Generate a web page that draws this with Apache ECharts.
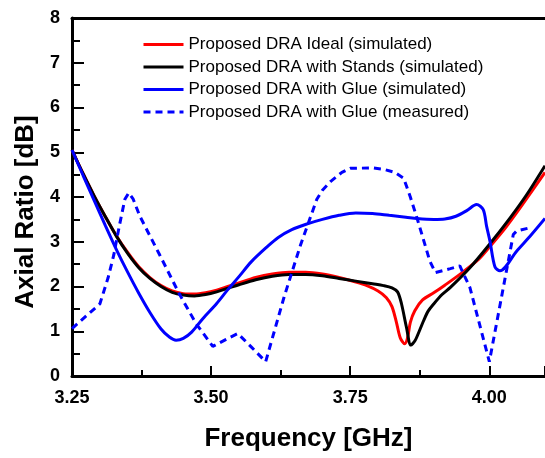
<!DOCTYPE html>
<html>
<head>
<meta charset="utf-8">
<script src="https://cdn.jsdelivr.net/npm/echarts@6/dist/echarts.min.js"></script>
<style>
html,body{margin:0;padding:0;background:#fff;}
#chart{width:545px;height:458px;}
</style>
</head>
<body>
<div id="chart"></div>
<script>
// Series names
var seriesNames = [
  'Proposed DRA Ideal (simulated)',
  'Proposed DRA with Stands (simulated)',
  'Proposed DRA with Glue (simulated)',
  'Proposed DRA with Glue (measured)'
];
// [frequency GHz, axial ratio dB]
var idealSim = [[3.25,5.05],[3.27,4.52],[3.29,4.02],[3.31,3.56],[3.33,3.13],[3.35,2.76],[3.37,2.44],[3.39,2.2],[3.41,2.02],[3.43,1.9],[3.45,1.84],[3.47,1.83],[3.49,1.86],[3.51,1.92],[3.53,2.0],[3.55,2.08],[3.58,2.2],[3.61,2.28],[3.64,2.32],[3.67,2.32],[3.70,2.28],[3.73,2.2],[3.76,2.1],[3.78,2.02],[3.80,1.9],[3.815,1.75],[3.825,1.55],[3.833,1.2],[3.840,0.85],[3.848,0.72],[3.853,0.85],[3.858,1.2],[3.866,1.46],[3.88,1.7],[3.90,1.86],[3.92,2.03],[3.95,2.3],[3.98,2.6],[4.00,2.88],[4.03,3.33],[4.06,3.84],[4.10,4.55]];
var standsSim = [[3.25,5.05],[3.27,4.52],[3.29,4.02],[3.31,3.56],[3.33,3.12],[3.35,2.74],[3.37,2.42],[3.39,2.18],[3.41,2.0],[3.43,1.87],[3.45,1.81],[3.47,1.79],[3.49,1.82],[3.51,1.88],[3.53,1.96],[3.55,2.04],[3.58,2.15],[3.61,2.23],[3.64,2.27],[3.67,2.27],[3.70,2.24],[3.73,2.18],[3.76,2.12],[3.79,2.06],[3.81,2.02],[3.825,1.97],[3.835,1.88],[3.842,1.62],[3.851,1.09],[3.859,0.69],[3.866,0.78],[3.874,1.0],[3.882,1.24],[3.89,1.45],[3.90,1.61],[3.915,1.82],[3.93,1.98],[3.965,2.42],[4.00,2.94],[4.037,3.53],[4.067,4.05],[4.10,4.70]];
var glueSim = [[3.25,5.05],[3.27,4.48],[3.29,3.92],[3.31,3.36],[3.33,2.82],[3.35,2.32],[3.37,1.85],[3.39,1.42],[3.41,1.05],[3.425,0.87],[3.437,0.80],[3.45,0.84],[3.465,0.98],[3.485,1.28],[3.51,1.62],[3.53,1.93],[3.55,2.22],[3.572,2.55],[3.60,2.88],[3.62,3.09],[3.645,3.27],[3.673,3.40],[3.70,3.50],[3.73,3.59],[3.76,3.64],[3.79,3.63],[3.82,3.59],[3.85,3.55],[3.87,3.52],[3.90,3.50],[3.92,3.51],[3.94,3.57],[3.96,3.70],[3.977,3.83],[3.989,3.72],[3.995,3.35],[4.001,3.02],[4.010,2.44],[4.019,2.35],[4.049,2.79],[4.075,3.15],[4.10,3.52]];
var glueMeas = [[3.25,1.06],[3.30,1.61],[3.315,2.2],[3.325,2.7],[3.335,3.35],[3.345,3.95],[3.352,4.09],[3.36,3.95],[3.372,3.57],[3.407,2.72],[3.443,1.83],[3.473,1.17],[3.503,0.66],[3.527,0.82],[3.548,0.95],[3.572,0.65],[3.598,0.32],[3.631,1.76],[3.661,2.94],[3.69,3.95],[3.70,4.15],[3.715,4.35],[3.735,4.55],[3.75,4.64],[3.79,4.65],[3.81,4.62],[3.83,4.55],[3.846,4.42],[3.858,4.0],[3.870,3.53],[3.893,2.57],[3.903,2.31],[3.93,2.4],[3.947,2.46],[3.965,1.98],[4.000,0.32],[4.043,3.16],[4.049,3.24],[4.072,3.31]];
var xTickLabels = ['3.25','3.50','3.75','4.00'];
var yTickLabels = ['0','1','2','3','4','5','6','7','8'];

var FONT = '"Liberation Sans", Arial, sans-serif';
var chart = echarts.init(document.getElementById('chart'), null, {renderer:'canvas'});

function lineSeries(name, data, color, dashed, smooth) {
  return {
    name: name, type: 'line', data: data, symbol: 'none',
    smooth: smooth,
    lineStyle: {color: color, width: 3, type: dashed ? [7,5] : 'solid'},
    itemStyle: {color: color},
    z: 3
  };
}

var axisLineStyle = {show: true, lineStyle: {color: '#000', width: 3}};

chart.setOption({
  animation: false,
  backgroundColor: '#fff',
  grid: {left: 72, right: -2, top: 18, bottom: 82},
  legend: {
    orient: 'vertical', left: 142, top: 36, padding: 0,
    itemWidth: 40, itemHeight: 17, itemGap: 5.5,
    itemStyle: {opacity: 0},
    lineStyle: {width: 3},
    textStyle: {fontFamily: FONT, fontSize: 17, color: '#000'},
    data: seriesNames
  },
  xAxis: [{
    type: 'value', min: 3.25, max: 4.1, interval: 0.25,
    name: 'Frequency [GHz]', nameLocation: 'middle', nameGap: 50,
    nameTextStyle: {fontFamily: FONT, fontSize: 26, fontWeight: 'bold', color: '#000'},
    axisLine: axisLineStyle,
    axisTick: {show: true, inside: true, length: 10, lineStyle: {color: '#000', width: 2}},
    minorTick: {show: true, splitNumber: 2, length: 6, lineStyle: {color: '#000', width: 2}},
    splitLine: {show: false},
    axisLabel: {
      fontFamily: FONT, fontSize: 18, fontWeight: 'bold', color: '#000', margin: 13,
      showMaxLabel: false,
      formatter: function (v) {
        var i = Math.round((v - 3.25) / 0.25);
        return (Math.abs(v - (3.25 + i * 0.25)) < 1e-6 && xTickLabels[i]) ? xTickLabels[i] : '';
      }
    }
  }, {
    type: 'value', min: 3.25, max: 4.1, interval: 0.25, position: 'top',
    axisLine: axisLineStyle, axisTick: {show: false}, axisLabel: {show: false}, splitLine: {show: false}
  }],
  yAxis: {
    type: 'value', min: 0, max: 8, interval: 1,
    name: 'Axial Ratio [dB]', nameLocation: 'middle', nameGap: 32,
    nameTextStyle: {fontFamily: FONT, fontSize: 26, fontWeight: 'bold', color: '#000', padding: [0, 30, 0, 0]},
    axisLine: axisLineStyle,
    axisTick: {show: true, inside: true, length: 12, lineStyle: {color: '#000', width: 2}},
    minorTick: {show: true, splitNumber: 2, length: 8, lineStyle: {color: '#000', width: 2}},
    splitLine: {show: false},
    axisLabel: {
      fontFamily: FONT, fontSize: 18, fontWeight: 'bold', color: '#000', margin: 12,
      formatter: function (v) { return yTickLabels[Math.round(v)]; }
    }
  },
  series: [
    lineSeries(seriesNames[0], idealSim, '#ff0000', false, 0.3),
    lineSeries(seriesNames[1], standsSim, '#000000', false, 0.3),
    lineSeries(seriesNames[2], glueSim, '#0000ff', false, 0.3),
    lineSeries(seriesNames[3], glueMeas, '#0000ff', true, false)
  ]
});
</script>
</body>
</html>
